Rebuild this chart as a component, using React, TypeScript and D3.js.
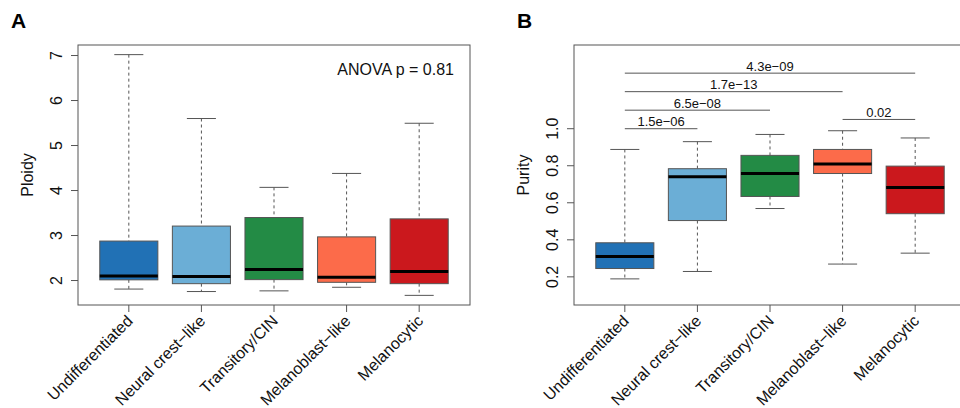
import React from "react";
import * as d3 from "d3";

const categories = [
  "Undifferentiated",
  "Neural crest\u2212like",
  "Transitory/CIN",
  "Melanoblast\u2212like",
  "Melanocytic",
];
const colors = ["#2171b5", "#6baed6", "#238b45", "#fc6b4a", "#cb181d"];

// Panel A: ploidy box stats
const ploidyLow = [1.81, 1.755, 1.77, 1.85, 1.67];
const ploidyQ1 = [2.015, 1.93, 2.02, 1.96, 1.93];
const ploidyMed = [2.098, 2.09, 2.245, 2.075, 2.2];
const ploidyQ3 = [2.877, 3.21, 3.4, 2.97, 3.37];
const ploidyHigh = [7.02, 5.6, 4.07, 4.38, 5.495];
const ploidyTicks = [2, 3, 4, 5, 6, 7];

// Panel B: purity box stats
const purityLow = [0.189, 0.229, 0.569, 0.269, 0.328];
const purityQ1 = [0.245, 0.504, 0.634, 0.758, 0.541];
const purityMed = [0.31, 0.741, 0.758, 0.809, 0.683];
const purityQ3 = [0.384, 0.784, 0.856, 0.888, 0.798];
const purityHigh = [0.888, 0.93, 0.969, 0.989, 0.95];
const purityTicks = [0.2, 0.4, 0.6, 0.8, 1.0];
const purityLim = [0.1, 1.4];

// Pairwise comparison brackets (panel B)
const bracketFrom = [1, 1, 1, 1, 4];
const bracketTo = [2, 3, 4, 5, 5];
const bracketY = [1.0, 1.1, 1.2, 1.3, 1.05];
const bracketLabel = ["1.5e\u221206", "6.5e\u221208", "1.7e\u221213", "4.3e\u221209", "0.02"];

const FONT = "'Liberation Sans', Arial, Helvetica, sans-serif";
const TOP = 45;
const BOTTOM = 305;
const PW = 392;

function extend(lo: number, hi: number): [number, number] {
  const r = hi - lo;
  return [lo - 0.04 * r, hi + 0.04 * r];
}

type PanelProps = {
  left: number;
  low: number[];
  q1: number[];
  med: number[];
  q3: number[];
  high: number[];
  ticks: number[];
  domain: [number, number];
  ylabel: string;
  tickFmt: (v: number) => string;
  children?: (x: d3.ScaleLinear<number, number>, y: d3.ScaleLinear<number, number>) => React.ReactNode;
};

function Panel(p: PanelProps) {
  const x = d3.scaleLinear().domain([0.3, categories.length + 0.7]).range([p.left, p.left + PW]);
  const y = d3.scaleLinear().domain(p.domain).range([BOTTOM, TOP]);
  const bw = (x(1) - x(0)) * 0.8;
  const gray = "#555";
  return (
    <g fontFamily={FONT}>
      {categories.map((c, i) => {
        const cx = x(i + 1);
        return (
          <g key={c}>
            <line x1={cx} x2={cx} y1={y(p.high[i])} y2={y(p.q3[i])} stroke={gray} strokeDasharray="3,3" />
            <line x1={cx} x2={cx} y1={y(p.q1[i])} y2={y(p.low[i])} stroke={gray} strokeDasharray="3,3" />
            <line x1={cx - bw / 4} x2={cx + bw / 4} y1={y(p.high[i])} y2={y(p.high[i])} stroke={gray} />
            <line x1={cx - bw / 4} x2={cx + bw / 4} y1={y(p.low[i])} y2={y(p.low[i])} stroke={gray} />
            <rect x={cx - bw / 2} width={bw} y={y(p.q3[i])} height={y(p.q1[i]) - y(p.q3[i])} fill={colors[i]} stroke={gray} strokeWidth={1} />
            <line x1={cx - bw / 2} x2={cx + bw / 2} y1={y(p.med[i])} y2={y(p.med[i])} stroke="#000" strokeWidth={3} />
            <line x1={cx} x2={cx} y1={BOTTOM} y2={BOTTOM + 7} stroke={gray} />
            <text
              transform={`translate(${cx + 1},${BOTTOM + 13}) rotate(-45)`}
              textAnchor="end"
              dominantBaseline="central"
              fontSize={16}
              fill="#111"
            >
              {c}
            </text>
          </g>
        );
      })}
      {p.ticks.map((t) => (
        <g key={t}>
          <line x1={p.left - 7} x2={p.left} y1={y(t)} y2={y(t)} stroke={gray} />
          <text transform={`translate(${p.left - 16},${y(t)}) rotate(-90)`} textAnchor="middle" fontSize={16} fill="#111">
            {p.tickFmt(t)}
          </text>
        </g>
      ))}
      <text transform={`translate(${p.left - 45},${(TOP + BOTTOM) / 2}) rotate(-90)`} textAnchor="middle" fontSize={16} fill="#111">
        {p.ylabel}
      </text>
      {p.children && p.children(x, y)}
      <rect x={p.left} y={TOP} width={PW} height={BOTTOM - TOP} fill="none" stroke={gray} strokeWidth={1} />
    </g>
  );
}

export default function App() {
  const allP = [...ploidyLow, ...ploidyHigh];
  const domA = extend(d3.min(allP) as number, d3.max(allP) as number);
  const domB = extend(purityLim[0], purityLim[1]);
  return (
    <div>
      <style>{`body{margin:0}`}</style>
      <svg width={960} height={408} style={{ display: "block", background: "#fff" }}>
        <text x={11} y={28} fontFamily={FONT} fontWeight="bold" fontSize={21}>A</text>
        <text x={517} y={28} fontFamily={FONT} fontWeight="bold" fontSize={21}>B</text>
        <Panel
          left={78}
          low={ploidyLow}
          q1={ploidyQ1}
          med={ploidyMed}
          q3={ploidyQ3}
          high={ploidyHigh}
          ticks={ploidyTicks}
          domain={domA}
          ylabel="Ploidy"
          tickFmt={(v) => String(v)}
        >
          {() => (
            <text x={454} y={75} textAnchor="end" fontSize={16} fill="#111">
              ANOVA p = 0.81
            </text>
          )}
        </Panel>
        <Panel
          left={574}
          low={purityLow}
          q1={purityQ1}
          med={purityMed}
          q3={purityQ3}
          high={purityHigh}
          ticks={purityTicks}
          domain={domB}
          ylabel="Purity"
          tickFmt={(v) => v.toFixed(1)}
        >
          {(x, y) =>
            bracketFrom.map((f, i) => (
              <g key={i}>
                <line x1={x(f)} x2={x(bracketTo[i])} y1={y(bracketY[i])} y2={y(bracketY[i])} stroke="#555" />
                <text
                  x={(x(f) + x(bracketTo[i])) / 2}
                  y={y(bracketY[i]) - 2.5}
                  textAnchor="middle"
                  fontSize={13}
                  fill="#111"
                >
                  {bracketLabel[i]}
                </text>
              </g>
            ))
          }
        </Panel>
      </svg>
    </div>
  );
}
